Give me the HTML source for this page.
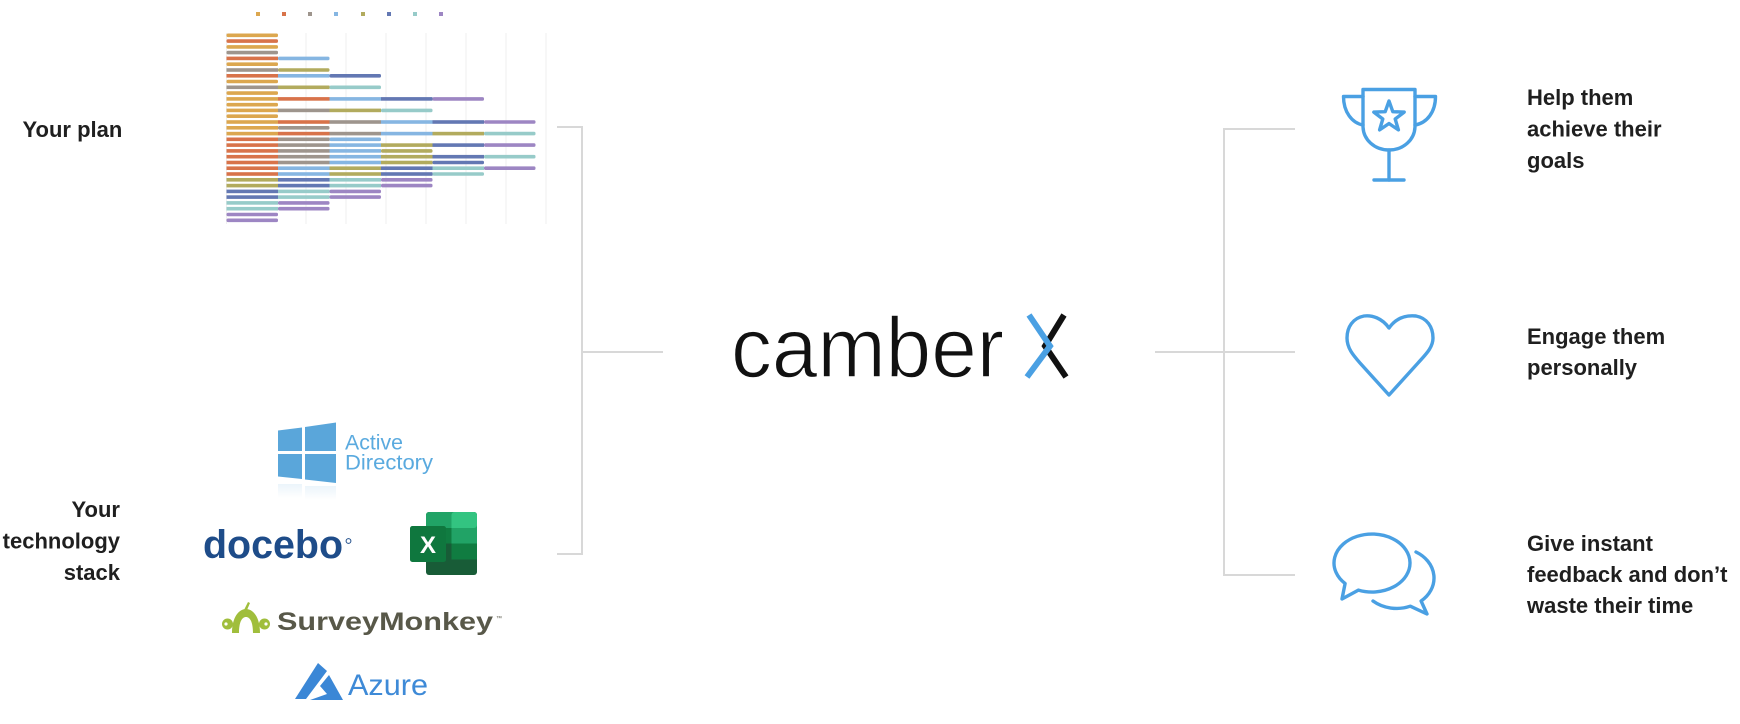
<!DOCTYPE html>
<html>
<head>
<meta charset="utf-8">
<style>
  html,body{margin:0;padding:0;background:#fff;}
  body{width:1740px;height:724px;overflow:hidden;}
  svg{display:block;}
  .t{font-family:"Liberation Sans",Arial,sans-serif;font-weight:bold;font-size:22px;fill:#1f1f1f;}
  .a{fill:#dca74f}.b{fill:#d8734a}.c{fill:#9e958d}.d{fill:#86b6e2}
  .e{fill:#b2ab5e}.f{fill:#6378b3}.g{fill:#97cbc9}.h{fill:#9d86c3}
  .ln{stroke:#d8d8d8;stroke-width:2;fill:none;}
  .ic{stroke:#4aa0e3;stroke-width:3.4;fill:none;stroke-linecap:round;stroke-linejoin:round;}
</style>
</head>
<body>
<svg width="1740" height="724" viewBox="0 0 1740 724" xmlns="http://www.w3.org/2000/svg">
  <rect width="1740" height="724" fill="#fff"/>

  <!-- ===== Chart gridlines ===== -->
  <g stroke="#efefef" stroke-width="1">
    <line x1="226.5" y1="33" x2="226.5" y2="224"/>
    <line x1="306" y1="33" x2="306" y2="224"/>
    <line x1="346" y1="33" x2="346" y2="224"/>
    <line x1="386" y1="33" x2="386" y2="224"/>
    <line x1="426" y1="33" x2="426" y2="224"/>
    <line x1="466" y1="33" x2="466" y2="224"/>
    <line x1="506" y1="33" x2="506" y2="224"/>
    <line x1="546" y1="33" x2="546" y2="224"/>
  </g>

  <!-- legend -->
  <rect class="a" x="256" y="12" width="4" height="4"/>
  <rect class="b" x="282" y="12" width="4" height="4"/>
  <rect class="c" x="308" y="12" width="4" height="4"/>
  <rect class="d" x="334" y="12" width="4" height="4"/>
  <rect class="e" x="361" y="12" width="4" height="4"/>
  <rect class="f" x="387" y="12" width="4" height="4"/>
  <rect class="g" x="413" y="12" width="4" height="4"/>
  <rect class="h" x="439" y="12" width="4" height="4"/>

  <!-- bars -->
  <g>
    <g transform="translate(0,33.5)"><rect class="a" x="226.5" width="51.5" height="3.6" rx="1.5"/></g>
    <g transform="translate(0,39.3)"><rect class="b" x="226.5" width="51.5" height="3.6" rx="1.5"/></g>
    <g transform="translate(0,45.1)"><rect class="a" x="226.5" width="51.5" height="3.6" rx="1.5"/></g>
    <g transform="translate(0,50.8)"><rect class="c" x="226.5" width="51.5" height="3.6" rx="1.5"/></g>
    <g transform="translate(0,56.6)"><rect class="b" x="226.5" width="51.5" height="3.6"/><rect class="d" x="278" width="51.5" height="3.6" rx="1.5"/></g>
    <g transform="translate(0,62.4)"><rect class="a" x="226.5" width="51.5" height="3.6" rx="1.5"/></g>
    <g transform="translate(0,68.2)"><rect class="c" x="226.5" width="51.5" height="3.6"/><rect class="e" x="278" width="51.5" height="3.6" rx="1.5"/></g>
    <g transform="translate(0,74.0)"><rect class="b" x="226.5" width="51.5" height="3.6"/><rect class="d" x="278" width="51.5" height="3.6"/><rect class="f" x="329.5" width="51.5" height="3.6" rx="1.5"/></g>
    <g transform="translate(0,79.7)"><rect class="a" x="226.5" width="51.5" height="3.6" rx="1.5"/></g>
    <g transform="translate(0,85.5)"><rect class="c" x="226.5" width="51.5" height="3.6"/><rect class="e" x="278" width="51.5" height="3.6"/><rect class="g" x="329.5" width="51.5" height="3.6" rx="1.5"/></g>
    <g transform="translate(0,91.3)"><rect class="a" x="226.5" width="51.5" height="3.6" rx="1.5"/></g>
    <g transform="translate(0,97.1)"><rect class="a" x="226.5" width="51.5" height="3.6"/><rect class="b" x="278" width="51.5" height="3.6"/><rect class="d" x="329.5" width="51.5" height="3.6"/><rect class="f" x="381" width="51.5" height="3.6"/><rect class="h" x="432.5" width="51.5" height="3.6" rx="1.5"/></g>
    <g transform="translate(0,102.9)"><rect class="a" x="226.5" width="51.5" height="3.6" rx="1.5"/></g>
    <g transform="translate(0,108.6)"><rect class="a" x="226.5" width="51.5" height="3.6"/><rect class="c" x="278" width="51.5" height="3.6"/><rect class="e" x="329.5" width="51.5" height="3.6"/><rect class="g" x="381" width="51.5" height="3.6" rx="1.5"/></g>
    <g transform="translate(0,114.4)"><rect class="a" x="226.5" width="51.5" height="3.6" rx="1.5"/></g>
    <g transform="translate(0,120.2)"><rect class="a" x="226.5" width="51.5" height="3.6"/><rect class="b" x="278" width="51.5" height="3.6"/><rect class="c" x="329.5" width="51.5" height="3.6"/><rect class="d" x="381" width="51.5" height="3.6"/><rect class="f" x="432.5" width="51.5" height="3.6"/><rect class="h" x="484" width="51.5" height="3.6" rx="1.5"/></g>
    <g transform="translate(0,126.0)"><rect class="a" x="226.5" width="51.5" height="3.6"/><rect class="c" x="278" width="51.5" height="3.6" rx="1.5"/></g>
    <g transform="translate(0,131.8)"><rect class="a" x="226.5" width="51.5" height="3.6"/><rect class="b" x="278" width="51.5" height="3.6"/><rect class="c" x="329.5" width="51.5" height="3.6"/><rect class="d" x="381" width="51.5" height="3.6"/><rect class="e" x="432.5" width="51.5" height="3.6"/><rect class="g" x="484" width="51.5" height="3.6" rx="1.5"/></g>
    <g transform="translate(0,137.5)"><rect class="b" x="226.5" width="51.5" height="3.6"/><rect class="c" x="278" width="51.5" height="3.6"/><rect class="d" x="329.5" width="51.5" height="3.6" rx="1.5"/></g>
    <g transform="translate(0,143.3)"><rect class="b" x="226.5" width="51.5" height="3.6"/><rect class="c" x="278" width="51.5" height="3.6"/><rect class="d" x="329.5" width="51.5" height="3.6"/><rect class="e" x="381" width="51.5" height="3.6"/><rect class="f" x="432.5" width="51.5" height="3.6"/><rect class="h" x="484" width="51.5" height="3.6" rx="1.5"/></g>
    <g transform="translate(0,149.1)"><rect class="b" x="226.5" width="51.5" height="3.6"/><rect class="c" x="278" width="51.5" height="3.6"/><rect class="d" x="329.5" width="51.5" height="3.6"/><rect class="e" x="381" width="51.5" height="3.6" rx="1.5"/></g>
    <g transform="translate(0,154.9)"><rect class="b" x="226.5" width="51.5" height="3.6"/><rect class="c" x="278" width="51.5" height="3.6"/><rect class="d" x="329.5" width="51.5" height="3.6"/><rect class="e" x="381" width="51.5" height="3.6"/><rect class="f" x="432.5" width="51.5" height="3.6"/><rect class="g" x="484" width="51.5" height="3.6" rx="1.5"/></g>
    <g transform="translate(0,160.7)"><rect class="b" x="226.5" width="51.5" height="3.6"/><rect class="c" x="278" width="51.5" height="3.6"/><rect class="d" x="329.5" width="51.5" height="3.6"/><rect class="e" x="381" width="51.5" height="3.6"/><rect class="f" x="432.5" width="51.5" height="3.6" rx="1.5"/></g>
    <g transform="translate(0,166.4)"><rect class="b" x="226.5" width="51.5" height="3.6"/><rect class="d" x="278" width="51.5" height="3.6"/><rect class="e" x="329.5" width="51.5" height="3.6"/><rect class="f" x="381" width="51.5" height="3.6"/><rect class="g" x="432.5" width="51.5" height="3.6"/><rect class="h" x="484" width="51.5" height="3.6" rx="1.5"/></g>
    <g transform="translate(0,172.2)"><rect class="b" x="226.5" width="51.5" height="3.6"/><rect class="d" x="278" width="51.5" height="3.6"/><rect class="e" x="329.5" width="51.5" height="3.6"/><rect class="f" x="381" width="51.5" height="3.6"/><rect class="g" x="432.5" width="51.5" height="3.6" rx="1.5"/></g>
    <g transform="translate(0,178.0)"><rect class="e" x="226.5" width="51.5" height="3.6"/><rect class="f" x="278" width="51.5" height="3.6"/><rect class="g" x="329.5" width="51.5" height="3.6"/><rect class="h" x="381" width="51.5" height="3.6" rx="1.5"/></g>
    <g transform="translate(0,183.8)"><rect class="e" x="226.5" width="51.5" height="3.6"/><rect class="f" x="278" width="51.5" height="3.6"/><rect class="g" x="329.5" width="51.5" height="3.6"/><rect class="h" x="381" width="51.5" height="3.6" rx="1.5"/></g>
    <g transform="translate(0,189.6)"><rect class="f" x="226.5" width="51.5" height="3.6"/><rect class="g" x="278" width="51.5" height="3.6"/><rect class="h" x="329.5" width="51.5" height="3.6" rx="1.5"/></g>
    <g transform="translate(0,195.3)"><rect class="f" x="226.5" width="51.5" height="3.6"/><rect class="g" x="278" width="51.5" height="3.6"/><rect class="h" x="329.5" width="51.5" height="3.6" rx="1.5"/></g>
    <g transform="translate(0,201.1)"><rect class="g" x="226.5" width="51.5" height="3.6"/><rect class="h" x="278" width="51.5" height="3.6" rx="1.5"/></g>
    <g transform="translate(0,206.9)"><rect class="g" x="226.5" width="51.5" height="3.6"/><rect class="h" x="278" width="51.5" height="3.6" rx="1.5"/></g>
    <g transform="translate(0,212.7)"><rect class="h" x="226.5" width="51.5" height="3.6" rx="1.5"/></g>
    <g transform="translate(0,218.5)"><rect class="h" x="226.5" width="51.5" height="3.6" rx="1.5"/></g>
  </g>

  <!-- ===== Left labels ===== -->
  <text class="t" x="22.5" y="137">Your plan</text>
  <text class="t" x="120" y="517" text-anchor="end">Your</text>
  <text class="t" x="120" y="548.5" text-anchor="end">technology</text>
  <text class="t" x="120" y="580" text-anchor="end">stack</text>

  <!-- ===== Left connector ===== -->
  <path class="ln" d="M557,127 H582 V554 H557"/>
  <path class="ln" d="M582,352 H663"/>

  <!-- ===== Active Directory logo ===== -->
  <g fill="#5aa6da">
    <polygon points="278,430.5 302,427.5 302,451 278,451"/>
    <polygon points="305,427 336,422.5 336,451 305,451"/>
    <polygon points="278,454 302,454 302,479 278,476.5"/>
    <polygon points="305,454 336,454 336,483 305,479.5"/>
  </g>
  <defs>
    <linearGradient id="refl" x1="0" y1="0" x2="0" y2="1">
      <stop offset="0" stop-color="#5aa6da" stop-opacity="0.12"/>
      <stop offset="1" stop-color="#5aa6da" stop-opacity="0"/>
    </linearGradient>
  </defs>
  <rect x="278" y="484" width="24" height="14" fill="url(#refl)"/>
  <rect x="305" y="486" width="31" height="14" fill="url(#refl)"/>
  <text x="345" y="449.5" font-family="'Liberation Sans',Arial,sans-serif" font-size="21" fill="#5aaadf" textLength="58" lengthAdjust="spacingAndGlyphs">Active</text>
  <text x="345" y="469.5" font-family="'Liberation Sans',Arial,sans-serif" font-size="21" fill="#5aaadf" textLength="88" lengthAdjust="spacingAndGlyphs">Directory</text>

  <!-- ===== docebo ===== -->
  <text x="203" y="558" font-family="'Liberation Sans',Arial,sans-serif" font-weight="bold" font-size="40" fill="#1e4c89" textLength="140" lengthAdjust="spacingAndGlyphs">docebo</text>
  <circle cx="348.5" cy="541" r="2.4" fill="none" stroke="#1e4c89" stroke-width="1"/>

  <!-- ===== Excel ===== -->
  <g>
    <rect x="426" y="512" width="51" height="63" rx="3" fill="#185c37"/>
    <rect x="426" y="512" width="51" height="16" rx="3" fill="#21a366"/>
    <rect x="426" y="524" width="51" height="4" fill="#21a366"/>
    <rect x="451.5" y="512" width="25.5" height="16" rx="3" fill="#33c481"/>
    <rect x="451.5" y="524" width="22" height="4" fill="#33c481"/>
    <rect x="426" y="528" width="51" height="15.5" fill="#107c41"/>
    <rect x="451.5" y="528" width="25.5" height="15.5" fill="#21a366"/>
    <rect x="426" y="543.5" width="51" height="16" fill="#185c37"/>
    <rect x="451.5" y="543.5" width="25.5" height="16" fill="#107c41"/>
    <rect x="410" y="526" width="36" height="36" rx="2.5" fill="#107c41"/>
    <rect x="410" y="526" width="36" height="36" rx="2.5" fill="#0f6f3a" opacity="0.35"/>
    <text x="428" y="553" text-anchor="middle" font-family="'Liberation Sans',Arial,sans-serif" font-weight="bold" font-size="24" fill="#fff">X</text>
  </g>

  <!-- ===== SurveyMonkey ===== -->
  <g fill="#a0be3c">
    <path d="M232,633 C232,617 239,609 246,609 C253,609 260,617 260,633 L253,633 C253,622 250,617 246,617 C242,617 239,622 239,633 Z"/>
    <circle cx="227.5" cy="624" r="5.5"/>
    <circle cx="264.5" cy="624" r="5.5"/>
    <path d="M244,610 L248,602 L250,603 L247,610 Z"/>
  </g>
  <circle cx="226" cy="624" r="1.6" fill="#fff"/>
  <circle cx="266" cy="624" r="1.6" fill="#fff"/>
  <text x="277" y="630" font-family="'Liberation Sans',Arial,sans-serif" font-weight="bold" font-size="25" fill="#585849" textLength="216" lengthAdjust="spacingAndGlyphs">SurveyMonkey</text>
  <text x="496" y="620" font-family="'Liberation Sans',Arial,sans-serif" font-size="6" fill="#585849">™</text>

  <!-- ===== Azure ===== -->
  <g fill="#3b87d6">
    <path d="M295,699 L318,663 L327,671 L306,699 Z"/>
    <path d="M329,675 L343,700 L310,700 L327,694 L320,686 Z"/>
  </g>
  <text x="348" y="695" font-family="'Liberation Sans',Arial,sans-serif" font-size="30" fill="#3e8ad7" textLength="80" lengthAdjust="spacingAndGlyphs">Azure</text>

  <!-- ===== camber X ===== -->
  <text x="731" y="377" font-family="'Liberation Sans',Arial,sans-serif" font-size="85" fill="#111" stroke="#fff" stroke-width="1.4" textLength="273" lengthAdjust="spacingAndGlyphs">camber</text>
  <polyline points="1064,315 1045,346 1066,377" fill="none" stroke="#111" stroke-width="6"/>
  <polyline points="1029,315 1050,346 1027,377" fill="none" stroke="#4aa0e3" stroke-width="6"/>

  <!-- ===== Right connector ===== -->
  <path class="ln" d="M1155,352 H1224"/>
  <path class="ln" d="M1295,129 H1224 V575 H1295"/>
  <path class="ln" d="M1224,352 H1295"/>

  <!-- ===== Trophy ===== -->
  <g class="ic">
    <path d="M1363,89.5 H1415 V126 C1415,140 1403,150 1389,150 C1375,150 1363,140 1363,126 Z"/>
    <path d="M1363,96.5 H1343.5 C1343.5,112 1352,123 1363,125"/>
    <path d="M1415,96.5 H1435.5 C1435.5,112 1427,123 1415,125"/>
    <path d="M1389,150 V180"/>
    <path d="M1374,180 H1404"/>
    <polygon points="1389,101 1392.8,111.7 1404.2,112.1 1395.2,119 1398.4,129.9 1389,123.5 1379.6,129.9 1382.8,119 1373.8,112.1 1385.2,111.7"/>
  </g>

  <!-- ===== Heart ===== -->
  <path class="ic" d="M1389,328 C1382,318 1372,315 1364,316 C1353,318 1347,327 1347,338 C1347,348 1353,355 1360,363 L1389,395 L1418,363 C1425,355 1433,348 1433,338 C1433,327 1427,318 1416,316 C1406,315 1396,318 1389,328 Z"/>

  <!-- ===== Chat bubbles ===== -->
  <g class="ic">
    <path d="M1358.4,590.1 A38,29 0 1 0 1345.1,583.5 L1342,599 Z"/>
    <path d="M1416,552 A36,30 0 0 1 1421.1,601 L1427,614 L1410.3,606.2 A36,30 0 0 1 1373,601"/>
  </g>

  <!-- ===== Right labels ===== -->
  <text class="t" x="1527" y="105">Help them</text>
  <text class="t" x="1527" y="136.5">achieve their</text>
  <text class="t" x="1527" y="168">goals</text>

  <text class="t" x="1527" y="344">Engage them</text>
  <text class="t" x="1527" y="375">personally</text>

  <text class="t" x="1527" y="551">Give instant</text>
  <text class="t" x="1527" y="582">feedback and don’t</text>
  <text class="t" x="1527" y="613">waste their time</text>
</svg>
</body>
</html>
